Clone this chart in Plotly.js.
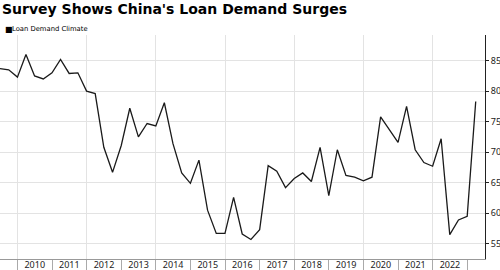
<!DOCTYPE html>
<html>
<head>
<meta charset="utf-8">
<script src="https://cdn.plot.ly/plotly-3.0.1.min.js"></script>
<style>
  html, body { margin: 0; padding: 0; background: #fff; }
  #chart { width: 500px; height: 270px; }
</style>
</head>
<body>
<div id="chart"></div>
<script>
const chartTitle = "Survey Shows China's Loan Demand Surges";
const seriesName = "Loan Demand Climate";

const quarterEnds = [
  "2009-06-30","2009-09-30","2009-12-31",
  "2010-03-31","2010-06-30","2010-09-30","2010-12-31",
  "2011-03-31","2011-06-30","2011-09-30","2011-12-31",
  "2012-03-31","2012-06-30","2012-09-30","2012-12-31",
  "2013-03-31","2013-06-30","2013-09-30","2013-12-31",
  "2014-03-31","2014-06-30","2014-09-30","2014-12-31",
  "2015-03-31","2015-06-30","2015-09-30","2015-12-31",
  "2016-03-31","2016-06-30","2016-09-30","2016-12-31",
  "2017-03-31","2017-06-30","2017-09-30","2017-12-31",
  "2018-03-31","2018-06-30","2018-09-30","2018-12-31",
  "2019-03-31","2019-06-30","2019-09-30","2019-12-31",
  "2020-03-31","2020-06-30","2020-09-30","2020-12-31",
  "2021-03-31","2021-06-30","2021-09-30","2021-12-31",
  "2022-03-31","2022-06-30","2022-09-30","2022-12-31",
  "2023-03-31"
];

const loanDemand = [
  83.7, 83.5, 82.3,
  86.0, 82.5, 82.0, 83.0,
  85.2, 82.9, 83.0, 80.0,
  79.6, 70.8, 66.7, 71.1,
  77.2, 72.5, 74.7, 74.3,
  78.1, 71.4, 66.6, 64.9,
  68.7, 60.5, 56.7, 56.7,
  62.6, 56.6, 55.7, 57.3,
  67.8, 66.9, 64.2, 65.7,
  66.6, 65.2, 70.8, 62.9,
  70.4, 66.2, 65.9, 65.3,
  65.9, 75.8, 73.7, 71.6,
  77.5, 70.4, 68.3, 67.7,
  72.2, 56.5, 58.9, 59.5,
  78.3
];

const yearLabels = ["2010","2011","2012","2013","2014","2015","2016","2017","2018","2019","2020","2021","2022"];
const yTicks = [55, 60, 65, 70, 75, 80, 85];

const xRange = ["2009-06-30", "2023-07-07"];
const yRange = [52.5, 89.2];

const tickFont = { family: "Noto Sans, Open Sans, sans-serif", size: 9, color: "#222" };

const traces = [
  {
    x: quarterEnds, y: loanDemand, type: "scatter", mode: "lines",
    line: { color: "#1a1a1a", width: 1.3 },
    name: seriesName, showlegend: false, hoverinfo: "x+y"
  },
  {
    x: quarterEnds, y: loanDemand, type: "scatter", mode: "lines",
    xaxis: "x2", line: { width: 0, color: "rgba(0,0,0,0)" },
    showlegend: false, hoverinfo: "skip"
  }
];

const layout = {
  width: 500, height: 270,
  margin: { l: 0, r: 15, t: 35, b: 11, pad: 0 },
  paper_bgcolor: "#fff", plot_bgcolor: "#fff",
  showlegend: false,
  title: {
    text: chartTitle,
    xref: "container", x: 0.004, xanchor: "left",
    yref: "container", y: 1 - 9.5 / 270, yanchor: "middle",
    font: { family: "DejaVu Sans, sans-serif", size: 14, color: "#000", weight: "bold" }
  },
  xaxis: {
    type: "date", range: xRange, fixedrange: true,
    tickmode: "array",
    tickvals: yearLabels.map(y => y + "-07-02"),
    ticktext: yearLabels,
    ticks: "", showgrid: false, zeroline: false,
    showline: true, linecolor: "#999", linewidth: 1,
    ticklabelstandoff: -3,
    tickfont: tickFont
  },
  xaxis2: {
    type: "date", range: xRange, fixedrange: true,
    overlaying: "x", anchor: "y", side: "bottom",
    tickmode: "linear", tick0: "2010-01-01", dtick: "M24",
    showticklabels: false,
    ticks: "outside", ticklen: 12, tickcolor: "#aaa", tickwidth: 1,
    showgrid: true, gridcolor: "#e3e3e3", gridwidth: 1,
    showline: false, zeroline: false,
    minor: { tick0: "2010-01-01", dtick: "M12", ticks: "outside", ticklen: 12, tickcolor: "#aaa", tickwidth: 1, showgrid: false }
  },
  yaxis: {
    range: yRange, fixedrange: true, side: "right",
    tickmode: "array", tickvals: yTicks, ticktext: yTicks.map(String),
    ticks: "outside", ticklen: 3, tickcolor: "#222", tickwidth: 1,
    showline: true, linecolor: "#222", linewidth: 1,
    showgrid: true, gridcolor: "#e3e3e3", gridwidth: 1,
    zeroline: false, tickfont: tickFont
  },
  annotations: [
    {
      text: "■", xref: "paper", yref: "paper",
      x: 3.5 / 484.5, y: 1 + (35 - 29.8) / 223.5,
      xanchor: "left", yanchor: "middle", showarrow: false, borderpad: 0,
      font: { family: "DejaVu Sans, sans-serif", size: 8, color: "#000" }
    },
    {
      text: seriesName, xref: "paper", yref: "paper",
      x: 11 / 484.5, y: 1 + (35 - 29.5) / 223.5,
      xanchor: "left", yanchor: "middle", showarrow: false, borderpad: 0,
      font: { family: "DejaVu Sans, sans-serif", size: 6.8, color: "#000" }
    }
  ]
};

Plotly.newPlot("chart", traces, layout, { displayModeBar: false, staticPlot: true });
</script>
</body>
</html>
